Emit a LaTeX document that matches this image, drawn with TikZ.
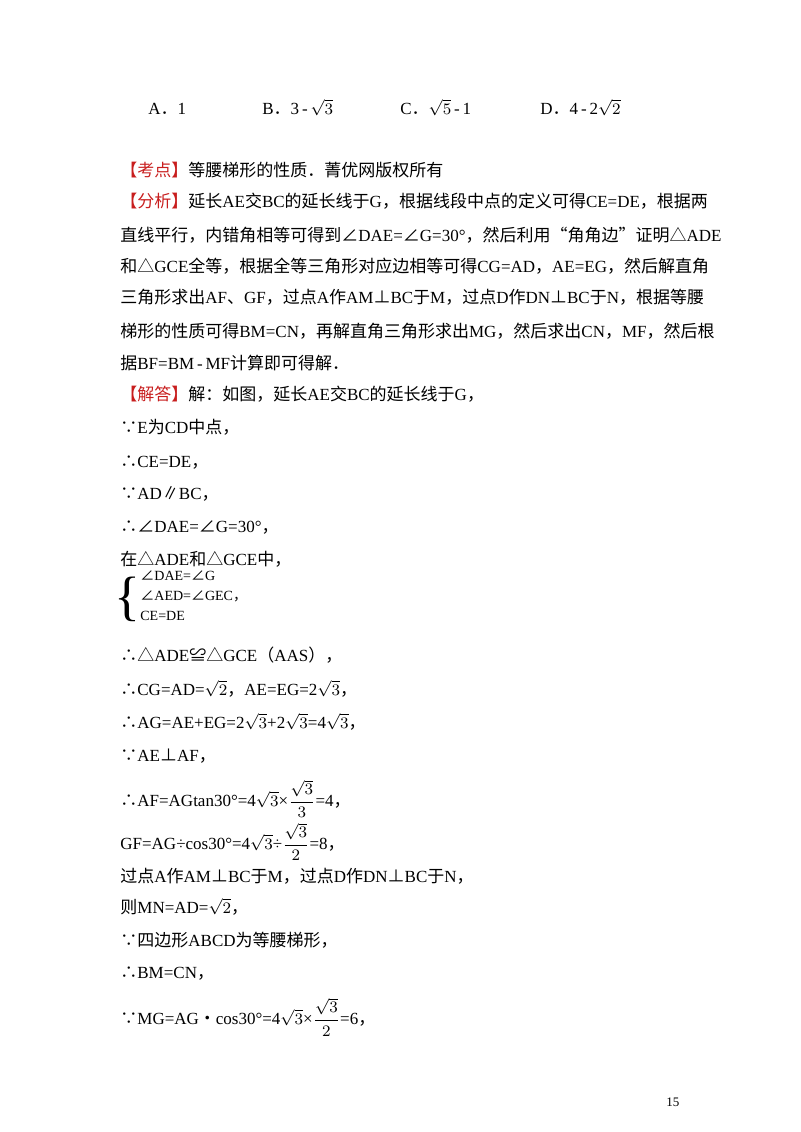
\documentclass[tikz,border=0pt]{standalone}
\usepackage{amsmath}
\usepackage{fontspec}
\setmainfont{Liberation Serif}
\newfontfamily\cjk{Noto Sans CJK SC}
\newcommand{\Z}[1]{{\cjk #1}}
\definecolor{kred}{RGB}{200,30,30}
\tikzset{ln/.style={anchor=base west,inner sep=0pt,font=\fontsize{8.5pt}{10pt}\selectfont}}
\begin{document}
\begin{tikzpicture}[x=0.5pt,y=-0.5pt]
\useasboundingbox (0,0) rectangle (800,1132);
\node[ln] (a) at (148,114) {A\Z{．}1};
\node[ln] (b) at (262,114) {B\Z{．}3\,-\,$\sqrt{3}$};
\node[ln] (c) at (400,114) {C\Z{．}$\sqrt{5}$\,-\,1};
\node[ln] (d) at (540,114) {D\Z{．}4\,-\,2$\sqrt{2}$};
\node[ln] (l1) at (120,176) {\Z{\textcolor{kred}{【考点】}等腰梯形的性质．菁优网版权所有}};
\node[ln] (l2) at (120,207) {\Z{\textcolor{kred}{【分析】}延长}AE\Z{交}BC\Z{的延长线于}G\Z{，根据线段中点的定义可得}CE=DE\Z{，根据两}};
\node[ln] (l3) at (120,241) {\Z{直线平行，内错角相等可得到∠}DAE=\Z{∠}G=30°\Z{，然后利用“角角边”证明△}ADE};
\node[ln] (l4) at (120,272) {\Z{和△}GCE\Z{全等，根据全等三角形对应边相等可得}CG=AD\Z{，}AE=EG\Z{，然后解直角}};
\node[ln] (l5) at (120,303) {\Z{三角形求出}AF\Z{、}GF\Z{，过点}A\Z{作}AM\Z{⊥}BC\Z{于}M\Z{，过点}D\Z{作}DN\Z{⊥}BC\Z{于}N\Z{，根据等腰}};
\node[ln] (l6) at (120,337) {\Z{梯形的性质可得}BM=CN\Z{，再解直角三角形求出}MG\Z{，然后求出}CN\Z{，}MF\Z{，然后根}};
\node[ln] (l7) at (120,369) {\Z{据}BF=BM\,-\,MF\Z{计算即可得解．}};
\node[ln] (l8) at (120,400) {\Z{\textcolor{kred}{【解答】}解：如图，延长}AE\Z{交}BC\Z{的延长线于}G\Z{，}};
\node[ln] (l9) at (120,433) {\Z{∵}E\Z{为}CD\Z{中点，}};
\node[ln] (l10) at (120,467) {\Z{∴}CE=DE\Z{，}};
\node[ln] (l11) at (120,499) {\Z{∵}AD\Z{∥}BC\Z{，}};
\node[ln] (l12) at (120,532) {\Z{∴∠}DAE=\Z{∠}G=30°\Z{，}};
\node[ln] (l13) at (120,565) {\Z{在△}ADE\Z{和△}GCE\Z{中，}};
\node[ln,font=\fontsize{27pt}{27pt}\selectfont] (br) at (114,614) {\{};
\node[ln,font=\fontsize{7pt}{8pt}\selectfont] (s1) at (140,580) {\Z{∠}DAE=\Z{∠}G};
\node[ln,font=\fontsize{7pt}{8pt}\selectfont] (s2) at (140,600) {\Z{∠}AED=\Z{∠}GEC\Z{，}};
\node[ln,font=\fontsize{7pt}{8pt}\selectfont] (s3) at (140,620) {CE=DE};
\node[ln] (l14) at (120,661) {\Z{∴△}ADE\Z{≌△}GCE\Z{（}AAS\Z{），}};
\node[ln] (l15) at (120,695) {\Z{∴}CG=AD=$\sqrt{2}$\Z{，}AE=EG=2$\sqrt{3}$\Z{，}};
\node[ln] (l16) at (120,728) {\Z{∴}AG=AE+EG=2$\sqrt{3}$+2$\sqrt{3}$=4$\sqrt{3}$\Z{，}};
\node[ln] (l17) at (120,761) {\Z{∵}AE\Z{⊥}AF\Z{，}};
\node[ln] (l18) at (120,806) {\Z{∴}AF=AGtan30°=4$\sqrt{3}$×$\dfrac{\sqrt{3}}{3}$=4\Z{，}};
\node[ln] (l19) at (120,849) {GF=AG÷cos30°=4$\sqrt{3}$÷$\dfrac{\sqrt{3}}{2}$=8\Z{，}};
\node[ln] (l20) at (120,882) {\Z{过点}A\Z{作}AM\Z{⊥}BC\Z{于}M\Z{，过点}D\Z{作}DN\Z{⊥}BC\Z{于}N\Z{，}};
\node[ln] (l21) at (120,913) {\Z{则}MN=AD=$\sqrt{2}$\Z{，}};
\node[ln] (l22) at (120,946) {\Z{∵四边形}ABCD\Z{为等腰梯形，}};
\node[ln] (l23) at (120,978) {\Z{∴}BM=CN\Z{，}};
\node[ln] (l24) at (120,1024) {\Z{∵}MG=AG\Z{•}cos30°=4$\sqrt{3}$×$\dfrac{\sqrt{3}}{2}$=6\Z{，}};
\node[ln,font=\fontsize{6.5pt}{8pt}\selectfont] (pg) at (666,1106) {15};
\end{tikzpicture}
\end{document}
